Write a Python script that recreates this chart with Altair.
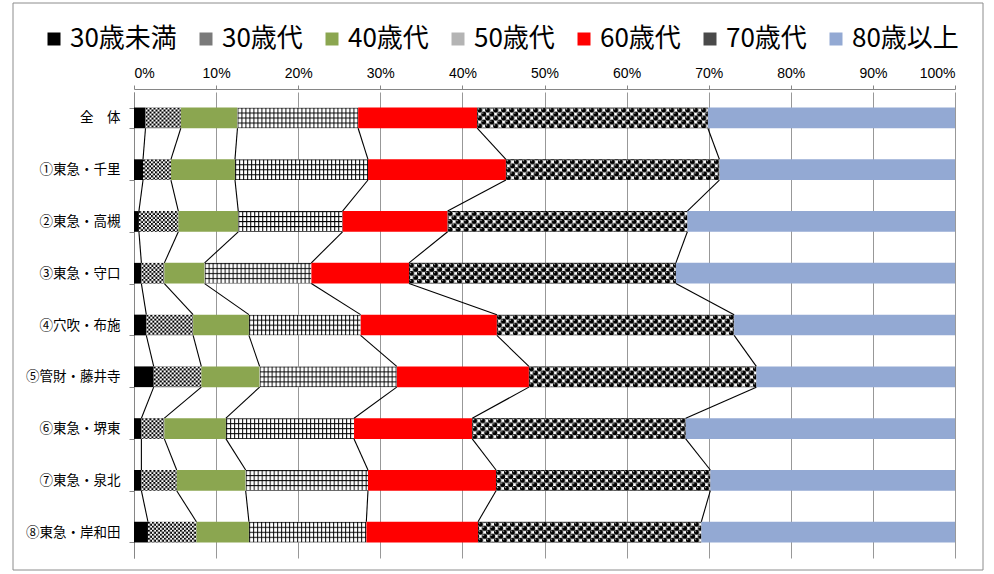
import base64

import altair as alt
import pandas as pd

# Categories (rows, top to bottom) and age groups (stack order, left to right)
stores = [
    "全\u3000体",
    "①東急・千里",
    "②東急・高槻",
    "③東急・守口",
    "④穴吹・布施",
    "⑤管財・藤井寺",
    "⑥東急・堺東",
    "⑦東急・泉北",
    "⑧東急・岸和田",
]
age_groups = ["30歳未満", "30歳代", "40歳代", "50歳代", "60歳代", "70歳代", "80歳以上"]

# Share of residents (%) per age group, one value per row above
under30 = [1.4, 1.1, 0.6, 0.9, 1.5, 2.4, 0.9, 0.9, 1.7]
age30s = [4.3, 3.4, 4.8, 2.8, 5.7, 5.8, 2.8, 4.3, 5.9]
age40s = [6.9, 7.8, 7.3, 4.9, 6.8, 7.1, 7.5, 8.4, 6.4]
age50s = [14.7, 16.2, 12.7, 13.0, 13.6, 16.7, 15.6, 14.9, 14.3]
age60s = [14.5, 16.8, 12.8, 11.9, 16.6, 16.1, 14.4, 15.6, 13.6]
age70s = [28.1, 26.0, 29.2, 32.5, 28.9, 27.7, 26.0, 26.1, 27.2]
over80 = [30.1, 28.7, 32.6, 34.0, 26.9, 24.2, 32.8, 29.8, 30.9]
shares = [under30, age30s, age40s, age50s, age60s, age70s, over80]

tick_values = [0, 0.1, 0.2, 0.3, 0.4, 0.5, 0.6, 0.7, 0.8, 0.9, 1.0]

swatches = ["#000000", "#7a7a7a", "#8BA650", "#b4b4b4", "#FF0000", "#4a4a4a", "#93A9D3"]
FONT = "Noto Sans CJK JP"

# ---- stacked segments -------------------------------------------------------
seg_rows = []
cum = {}  # running boundary per (group index, row index)
for i, store in enumerate(stores):
    left = 0.0
    for k, group in enumerate(age_groups):
        right = left + shares[k][i]
        seg_rows.append({"store": store, "group": group, "order": k,
                         "start": left / 100, "end": right / 100})
        cum[(k, i)] = right / 100
        left = right
segments = pd.DataFrame(seg_rows)

# ---- series lines joining each boundary between neighbouring rows ----------
link_rows = []
for k in range(len(age_groups) - 1):
    for i in range(len(stores) - 1):
        link_rows.append({"store": stores[i], "next_store": stores[i + 1],
                          "x": cum[(k, i)], "x2": cum[(k, i + 1)]})
links_df = pd.DataFrame(link_rows)


# ---- hatch textures for the patterned groups --------------------------------
def texture(tile_w, tile_h, body):
    svg = (
        "<svg xmlns='http://www.w3.org/2000/svg' width='100%' height='100%'>"
        f"<defs><pattern id='p' width='{tile_w}' height='{tile_h}' patternUnits='userSpaceOnUse'>"
        f"<rect width='{tile_w}' height='{tile_h}' fill='#fff'/>{body}</pattern></defs>"
        "<rect width='100%' height='100%' fill='url(#p)'/></svg>"
    )
    return "data:image/svg+xml;base64," + base64.b64encode(svg.encode("utf-8")).decode("ascii")


sphere = "".join(
    f"<circle cx='{cx}' cy='{cy}' r='2.6'/><circle cx='{cx - 1}' cy='{cy - 1}' r='0.6' fill='#fff'/>"
    for cx, cy in [(2.5, 2.5), (6.5, 6.5), (-1.5, 6.5), (6.5, -1.5), (-1.5, -1.5)]
)
textures = {
    "30歳代": texture(4, 4, "<rect width='2' height='2'/><rect x='2' y='2' width='2' height='2'/>"),
    "50歳代": texture(4, 5, "<rect width='1' height='5'/><rect width='4' height='1'/>"),
    "70歳代": texture(8, 8, sphere),
}

# ---- encodings ----------------------------------------------------------------
y_scale = alt.Scale(domain=stores, paddingInner=0.6, paddingOuter=0.3)
x_scale = alt.Scale(domain=[0, 1], nice=False, zero=True)

y_enc = alt.Y(
    "store:N",
    scale=y_scale,
    sort=stores,
    title=None,
    axis=alt.Axis(
        labelFont=FONT, labelFontSize=13.5, labelColor="#000000", labelPadding=9,
        tickSize=5, tickBand="extent", tickColor="#868686", domainColor="#868686",
        grid=False,
    ),
)
x_enc = alt.X(
    "start:Q",
    scale=x_scale,
    title=None,
    axis=alt.Axis(
        orient="top", values=tick_values, format=".0%",
        labelFont="Liberation Sans Narrow, Liberation Sans, sans-serif",
        labelFontSize=14, labelColor="#000000", labelPadding=5, offset=3,
        tickSize=4, tickColor="#868686", domainColor="#868686",
        grid=True, gridColor="#989898", gridWidth=1,
    ),
)

solid = alt.Chart(segments).mark_bar(strokeWidth=0).encode(
    x=x_enc,
    x2="end:Q",
    y=y_enc,
    color=alt.Color(
        "group:N",
        scale=alt.Scale(domain=age_groups, range=swatches),
        sort=age_groups,
        legend=alt.Legend(
            title=None, orient="none", legendX=-93, legendY=-66,
            direction="horizontal", columns=7, gridAlign="none",
            symbolType="square", symbolSize=169,
            symbolStrokeWidth=0, labelFont=FONT, labelFontSize=26, labelColor="#000000",
            columnPadding=16, labelOffset=3, padding=0, labelLimit=0,
        ),
    ),
)

texture_layers = [
    alt.Chart(segments)
    .transform_filter(alt.datum.group == group)
    .mark_image(aspect=False)
    .encode(x="start:Q", x2="end:Q", y="store:N", url=alt.value(url))
    for group, url in textures.items()
]

series_lines = alt.Chart(links_df).mark_rule(color="#000000", strokeWidth=1.1).encode(
    x="x:Q",
    x2="x2:Q",
    y=alt.Y("store:N", bandPosition=1),
    y2=alt.Y2("next_store:N", bandPosition=0),
)

frame = alt.Chart(pd.DataFrame({"k": [0]})).mark_rect(
    fillOpacity=0, stroke="#8c8c8c", strokeWidth=1
).encode(x=alt.value(-121), x2=alt.value(849), y=alt.value(-89), y2=alt.value(478))

chart = (
    alt.layer(frame, solid, *texture_layers, series_lines)
    .properties(
        width=821,
        height=466,
        autosize=alt.AutoSizeParams(type="none"),
        padding={"left": 134, "top": 92, "right": 39, "bottom": 16},
        background="#ffffff",
    )
    .configure_view(strokeWidth=0)
)

chart.save("out.html", embed_options={"renderer": "svg", "actions": False})
